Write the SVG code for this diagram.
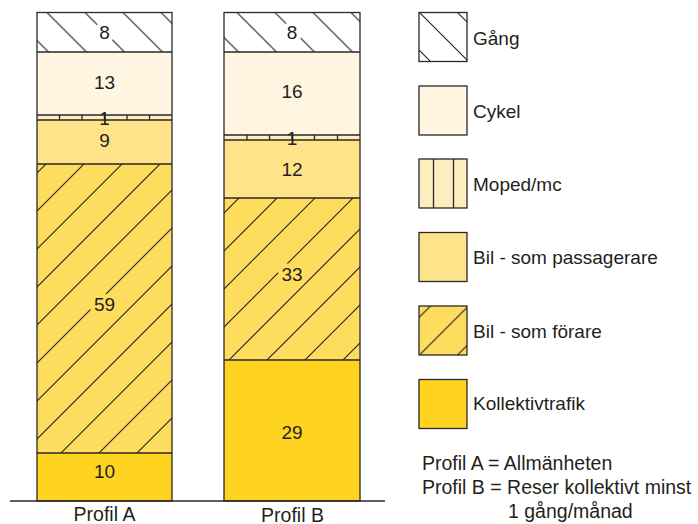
<svg xmlns="http://www.w3.org/2000/svg" width="698" height="524" viewBox="0 0 698 524">
<style>
text{font-family:"Liberation Sans",Arial,sans-serif;font-size:19px;fill:#231f20}
.c{text-anchor:middle}
.big{font-size:19.5px}
.seg{stroke:#2b2728;stroke-width:1.3}
.ko{paint-order:stroke;stroke-width:9px;stroke-linejoin:round}
.gang{fill:#ffffff}
.cykel{fill:#fff5e0}
.moped{fill:#fdeebf}
.pass{fill:#fee38a}
.forare{fill:#fedc5e}
.koll{fill:#fed420}
</style>
<defs>
<pattern id="bsA" patternUnits="userSpaceOnUse" x="34.5" y="0" width="38" height="38">
<path d="M0 0L38 38M-2 36L2 40M36 -2L40 2" stroke="#231f20" stroke-width="1.1"/>
</pattern>
<pattern id="bsL" patternUnits="userSpaceOnUse" x="27" y="0" width="38" height="38">
<path d="M0 0L38 38M-2 36L2 40M36 -2L40 2" stroke="#231f20" stroke-width="1.1"/>
</pattern>
<pattern id="fsA" patternUnits="userSpaceOnUse" x="20" y="0" width="38" height="38">
<path d="M0 38L38 0M-2 2L2 -2M36 40L40 36" stroke="#231f20" stroke-width="1.1"/>
</pattern>
<pattern id="fsB" patternUnits="userSpaceOnUse" x="19" y="0" width="38" height="38">
<path d="M0 38L38 0M-2 2L2 -2M36 40L40 36" stroke="#231f20" stroke-width="1.1"/>
</pattern>
<pattern id="fsL" patternUnits="userSpaceOnUse" x="14.5" y="0" width="38" height="38">
<path d="M0 38L38 0M-2 2L2 -2M36 40L40 36" stroke="#231f20" stroke-width="1.1"/>
</pattern>
</defs>

<g id="profilA">
<rect class="gang" x="37" y="12.5" width="135" height="39.5"/>
<rect fill="url(#bsA)" x="37" y="12.5" width="135" height="39.5"/>
<rect class="cykel" x="37" y="52" width="135" height="63"/>
<rect class="moped" x="37" y="115" width="135" height="5"/>
<rect class="pass" x="37" y="120" width="135" height="44"/>
<rect class="forare" x="37" y="164" width="135" height="289"/>
<rect fill="url(#fsA)" x="37" y="164" width="135" height="289"/>
<rect class="koll" x="37" y="453" width="135" height="48"/>
<path class="seg" fill="none" d="M37 52H172M37 115H172M37 120H172M37 164H172M37 453H172M59.5 115V120M82 115V120M104.5 115V120M127 115V120M149.5 115V120"/>
<rect class="seg" fill="none" x="37" y="12.5" width="135" height="488.5"/>
<text class="c ko" x="104.5" y="38.5" style="stroke:#ffffff">8</text>
<text class="c" x="104.5" y="89">13</text>
<text class="c" x="104.5" y="125">1</text>
<text class="c" x="104.5" y="146.5">9</text>
<text class="c ko" x="104.5" y="311" style="stroke:#fedc5e">59</text>
<text class="c" x="104.5" y="478">10</text>
<text class="c big" x="104.5" y="521">Profil A</text>
</g>

<g id="profilB">
<rect class="gang" x="224" y="12.5" width="136" height="39.5"/>
<rect fill="url(#bsA)" x="224" y="12.5" width="136" height="39.5"/>
<rect class="cykel" x="224" y="52" width="136" height="83"/>
<rect class="moped" x="224" y="135" width="136" height="5"/>
<rect class="pass" x="224" y="140" width="136" height="58"/>
<rect class="forare" x="224" y="198" width="136" height="162"/>
<rect fill="url(#fsB)" x="224" y="198" width="136" height="162"/>
<rect class="koll" x="224" y="360" width="136" height="141"/>
<path class="seg" fill="none" d="M224 52H360M224 135H360M224 140H360M224 198H360M224 360H360M247 135V140M269.5 135V140M292 135V140M314.5 135V140M337.5 135V140"/>
<rect class="seg" fill="none" x="224" y="12.5" width="136" height="488.5"/>
<text class="c ko" x="292" y="38.5" style="stroke:#ffffff">8</text>
<text class="c" x="292" y="98">16</text>
<text class="c" x="292" y="145">1</text>
<text class="c" x="292" y="175.5">12</text>
<text class="c ko" x="292" y="280.5" style="stroke:#fedc5e">33</text>
<text class="c" x="292" y="439">29</text>
<text class="c big" x="292.5" y="521.5">Profil B</text>
</g>

<g id="baseline">
<path d="M10 501H385" stroke="#2b2728" stroke-width="1.5"/>
</g>

<g id="legend-gang">
<rect class="gang" x="419" y="12.5" width="48" height="49"/>
<rect fill="url(#bsL)" x="419" y="12.5" width="48" height="49"/>
<rect class="seg" fill="none" x="419" y="12.5" width="48" height="49"/>
<text x="473" y="44.5">Gång</text>
</g>
<g id="legend-cykel">
<rect class="cykel seg" x="419" y="86" width="48" height="49"/>
<text x="473" y="117.5">Cykel</text>
</g>
<g id="legend-moped">
<rect class="moped seg" x="419" y="159" width="48" height="49"/>
<path class="seg" d="M433.5 159V208M453.5 159V208"/>
<text x="473" y="190.5">Moped/mc</text>
</g>
<g id="legend-pass">
<rect class="pass seg" x="419" y="232.5" width="48" height="49"/>
<text x="473" y="264">Bil - som passagerare</text>
</g>
<g id="legend-forare">
<rect class="forare" x="419" y="306" width="48" height="49"/>
<rect fill="url(#fsL)" x="419" y="306" width="48" height="49"/>
<rect class="seg" fill="none" x="419" y="306" width="48" height="49"/>
<text x="473" y="337.5">Bil - som förare</text>
</g>
<g id="legend-koll">
<rect class="koll seg" x="419" y="379.5" width="48" height="49"/>
<text x="473" y="410">Kollektivtrafik</text>
</g>
<g id="legend-profiles">
<text class="big" x="422" y="469.5">Profil A = Allmänheten</text>
<text class="big" x="422" y="494">Profil B = Reser kollektivt minst</text>
<text class="big" x="508" y="517.5">1 gång/månad</text>
</g>
</svg>
